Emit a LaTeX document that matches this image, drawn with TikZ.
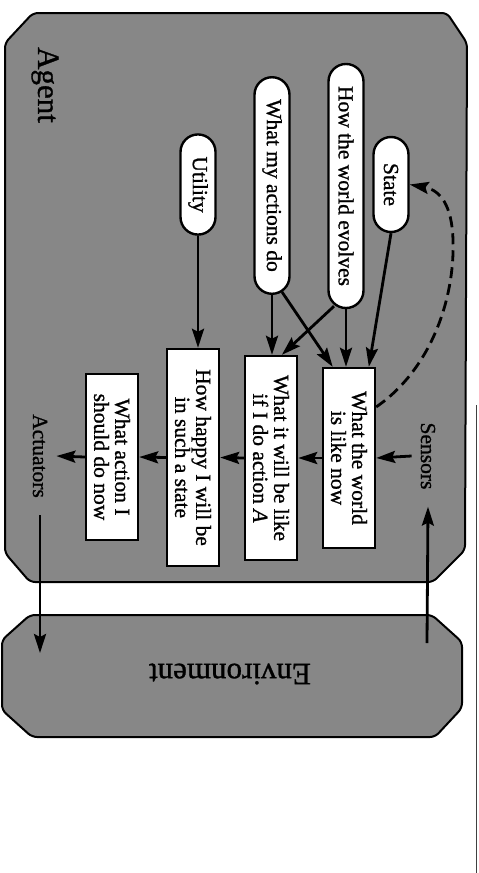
\documentclass[tikz,border=0pt]{standalone}
\usepackage{fontspec}
\setmainfont{Liberation Serif}[FakeBold=1.0]
\usetikzlibrary{arrows.meta,calc}
\definecolor{halftone}{gray}{0.53}
\tikzset{
  panel/.style={draw=black, line width=2pt, fill=halftone, rounded corners=5pt},
  oval/.style={draw=black, line width=2.4pt, fill=white, rotate=-90,
    rounded corners=17.5pt, minimum height=35pt, inner xsep=22pt, inner ysep=2pt,
    font=\fontsize{21.5}{21}\selectfont},
  box/.style={draw=black, line width=2.4pt, fill=white, rotate=-90,
    minimum height=52pt, inner xsep=4pt, inner ysep=2pt, align=center,
    font=\fontsize{21.5}{21}\selectfont},
  lbl/.style={rotate=-90, font=\fontsize{21.5}{24}\selectfont, inner ysep=9pt, inner xsep=17pt},
  big/.style={font=\fontsize{31}{36}\selectfont},
  flow/.style={line width=2.8pt, -{Stealth[length=19pt,width=12pt,inset=3pt]}},
  flowdash/.style={flow, dash pattern=on 11pt off 6pt}
}
\begin{document}
\begin{tikzpicture}[x=1pt,y=-1pt]
\useasboundingbox (0,0) rectangle (479,873);
% scan edge
\draw[line width=1pt, black!75] (476,405) -- (476,873);
% agent panel
\draw[panel] (5,43) -- (33,13) -- (447,13) -- (467,43) -- (465,550) -- (433,582) -- (30,582) -- (5,553) -- cycle;
% environment panel
\draw[panel] (2,640) -- (30,615) -- (432,615) -- (462,642) -- (462,708) -- (435,737) -- (32,737) -- (2,710) -- cycle;
\node[big, rotate=-90] (agent) at (45,85) {Agent};
\node[big, rotate=180] (env) at (230,674) {Environment};
% ovals
\node[oval, minimum width=95pt] (state) at (391,184.5) {State};
\node[oval] (evolves) at (346,186) {How the world evolves};
\node[oval] (actions) at (272,185.5) {What my actions do};
\node[oval, minimum width=95pt] (utility) at (198,184.5) {Utility};
% boxes
\node[box, minimum width=180pt] (wn) at (349,458) {What the world\\is like now};
\node[box, minimum width=204pt] (wb) at (271,458) {What it will be like\\if I do action \textit{A}};
\node[box, minimum width=217pt] (hp) at (193,457.5) {How happy I will be\\in such a state};
\node[box, minimum width=166pt] (act) at (112,457) {What action I\\should do now};
% labels
\node[lbl] (sensors) at (428,456) {Sensors};
\node[lbl] (actuators) at (40,456) {Actuators};
\coordinate (envout) at (427,643);
\coordinate (envin) at (40,653);
% connectors
\draw[flow] (sensors.south) -- (wn.north);
\draw[flow] (wn.south) -- (wb.north);
\draw[flow] (wb.south) -- (hp.north);
\draw[flow] (hp.south) -- (act.north);
\draw[flow] (act.south) -- (actuators.north);
\draw[flow] (actuators.east) -- (envin);
\draw[flow] (envout) -- (sensors.east);
\draw[flow] (state.east) -- ($(wn.west)!0.73!(wn.north west)$);
\draw[flow] (evolves.east) -- (evolves.east |- wn.west);
\draw[flow] ($(evolves.east)+(-12,-3)$) -- ($(wb.west)!0.4!(wb.north west)$);
\draw[flow] (actions.east) -- (actions.east |- wb.west);
\draw[flow] ($(actions.east)+(10,-3)$) -- ($(wn.west)!0.6!(wn.south west)$);
\draw[flow] (utility.east) -- (utility.east |- hp.west);
\draw[flowdash] ($(wn.north)!0.56!(wn.north west)$) .. controls (430,370) and (455,300) .. (453,240) .. controls (452,205) and (440,190) .. (state.north);
\end{tikzpicture}
\end{document}
